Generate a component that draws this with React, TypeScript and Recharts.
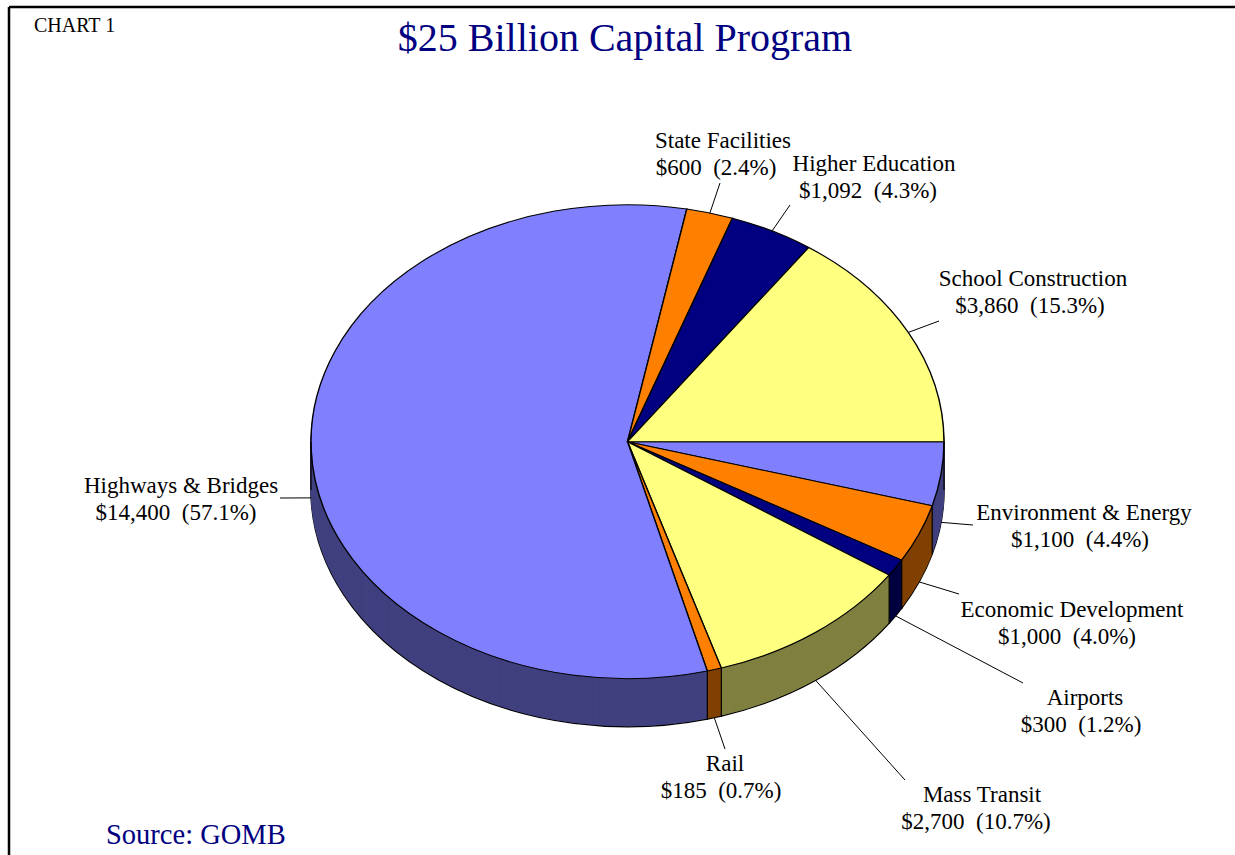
import React from 'react';
import { PieChart, Pie, Cell } from 'recharts';

// ---------- data ----------
const categories = [
  'Environment & Energy',
  'Economic Development',
  'Airports',
  'Mass Transit',
  'Rail',
  'Highways & Bridges',
  'State Facilities',
  'Higher Education',
  'School Construction',
];
const values = [1100, 1000, 300, 2700, 185, 14400, 600, 1092, 3860];
const topColors = ['#8080FF', '#FF8000', '#000080', '#FFFF80', '#FF8000', '#8080FF', '#FF8000', '#000080', '#FFFF80'];
const sideColors = ['#404080', '#804000', '#000040', '#808040', '#804000', '#404080', '#804000', '#000040', '#808040'];

const titleText = '$25 Billion Capital Program';
const chartTag = 'CHART 1';
const sourceText = 'Source: GOMB';

// ---------- layout (positions only) ----------
const CX = 627.5;
const CY = 442;
const RX = 316.5;
const RY = 237;
const DEPTH = 48;
const K = RY / RX;

// label anchors: x of line 1, x of line 2, baseline of line 1, leader start point
const labelLayout = [
  { x1: 1084, x2: 1080, y: 520, lx: 973, ly: 525 },
  { x1: 1072, x2: 1067, y: 617, lx: 959, ly: 594 },
  { x1: 1085, x2: 1081, y: 705, lx: 1023, ly: 683 },
  { x1: 982, x2: 976, y: 802, lx: 905, ly: 780 },
  { x1: 725, x2: 721, y: 771, lx: 725, ly: 749 },
  { x1: 181, x2: 176, y: 493, lx: 280, ly: 498 },
  { x1: 723, x2: 716, y: 148, lx: 720, ly: 183 },
  { x1: 874, x2: 868, y: 171, lx: 790, ly: 205 },
  { x1: 1033, x2: 1030, y: 286, lx: 939, ly: 321 },
];

const FONT = "'Liberation Serif', 'Times New Roman', serif";

const total = values.reduce((a, b) => a + b, 0);
const pieData = categories.map((name, i) => ({ name, value: values[i] }));

// cumulative fractions (clockwise from 3 o'clock)
const cum: number[] = [];
values.reduce((acc, v) => {
  cum.push(acc / total);
  return acc + v;
}, 0);

const W = Math.ceil(2 * RX + 10);
const PCX = W / 2;
const PCY = RX + 5;
const H = Math.ceil(2 * RX + DEPTH / K + 12);

const layers: number[] = [];
for (let d = DEPTH; d >= 1; d--) layers.push(d);

function ellPoint(theta: number, dy: number) {
  return { x: CX + RX * Math.cos(theta), y: CY + RY * Math.sin(theta) + dy };
}

export default function App() {
  const edges: { x: number; y: number }[] = [];
  cum.forEach((c) => {
    const th = c * 2 * Math.PI;
    if (Math.sin(th) > 0.001) edges.push(ellPoint(th, 0));
  });
  edges.push(ellPoint(0, 0));
  edges.push(ellPoint(Math.PI, 0));

  return (
    <div style={{ position: 'absolute', left: 0, top: 0, width: 1235, height: 855, overflow: 'hidden', background: '#fff' }}>
      <div
        style={{
          position: 'absolute',
          left: CX - PCX,
          top: CY - PCY * K,
          width: W,
          height: H,
          transform: `scaleY(${K})`,
          transformOrigin: '0 0',
        }}
      >
        <PieChart width={W} height={H} margin={{ top: 0, right: 0, bottom: 0, left: 0 }}>
          {layers.map((d) => (
            <Pie
              key={`side-${d}`}
              data={pieData}
              dataKey="value"
              nameKey="name"
              cx={PCX}
              cy={PCY + d / K}
              outerRadius={RX}
              innerRadius={0}
              startAngle={0}
              endAngle={-360}
              isAnimationActive={false}
              label={false}
              labelLine={false}
            >
              {pieData.map((e, i) => (
                <Cell
                  key={`s-${d}-${i}`}
                  fill={sideColors[i]}
                  stroke={d === DEPTH ? '#000' : sideColors[i]}
                  strokeWidth={d === DEPTH ? 1.6 : 1}
                />
              ))}
            </Pie>
          ))}
          <Pie
            key="top"
            data={pieData}
            dataKey="value"
            nameKey="name"
            cx={PCX}
            cy={PCY}
            outerRadius={RX}
            innerRadius={0}
            startAngle={0}
            endAngle={-360}
            isAnimationActive={false}
            label={false}
            labelLine={false}
          >
            {pieData.map((e, i) => (
              <Cell key={`t-${i}`} fill={topColors[i]} stroke="#000" strokeWidth={1.4} />
            ))}
          </Pie>
        </PieChart>
      </div>

      <svg width={1235} height={855} style={{ position: 'absolute', left: 0, top: 0, pointerEvents: 'none' }}>
        {/* frame */}
        <line x1={9} y1={7} x2={1235} y2={7} stroke="#000" strokeWidth={2.5} />
        <line x1={9} y1={7} x2={9} y2={855} stroke="#000" strokeWidth={2.5} />

        {/* side edges */}
        {edges.map((p, i) => (
          <line key={`e-${i}`} x1={p.x} y1={p.y} x2={p.x} y2={p.y + DEPTH} stroke="#000" strokeWidth={1.2} />
        ))}

        <text x={34} y={32} fontFamily={FONT} fontSize={20} fill="#000">{chartTag}</text>
        <text x={625} y={51} fontFamily={FONT} fontSize={40} fill="#000080" textAnchor="middle">{titleText}</text>
        <text x={106} y={844} fontFamily={FONT} fontSize={28.5} fill="#000080">{sourceText}</text>

        {categories.map((name, i) => {
          const L = labelLayout[i];
          const mid = (cum[i] + values[i] / total / 2) * 2 * Math.PI;
          const front = Math.sin(mid) > 0;
          const end = ellPoint(mid, front ? DEPTH : 0);
          const pct = ((values[i] / total) * 100).toFixed(1);
          const line2 = `$${values[i].toLocaleString('en-US')}  (${pct}%)`;
          return (
            <g key={`lab-${i}`}>
              <line x1={L.lx} y1={L.ly} x2={end.x} y2={end.y} stroke="#000" strokeWidth={1} />
              <text x={L.x1} y={L.y} fontFamily={FONT} fontSize={23} fill="#000" textAnchor="middle" style={{ whiteSpace: 'pre' }}>
                {name}
              </text>
              <text x={L.x2} y={L.y + 27} fontFamily={FONT} fontSize={23} fill="#000" textAnchor="middle" style={{ whiteSpace: 'pre' }}>
                {line2}
              </text>
            </g>
          );
        })}
      </svg>
    </div>
  );
}
